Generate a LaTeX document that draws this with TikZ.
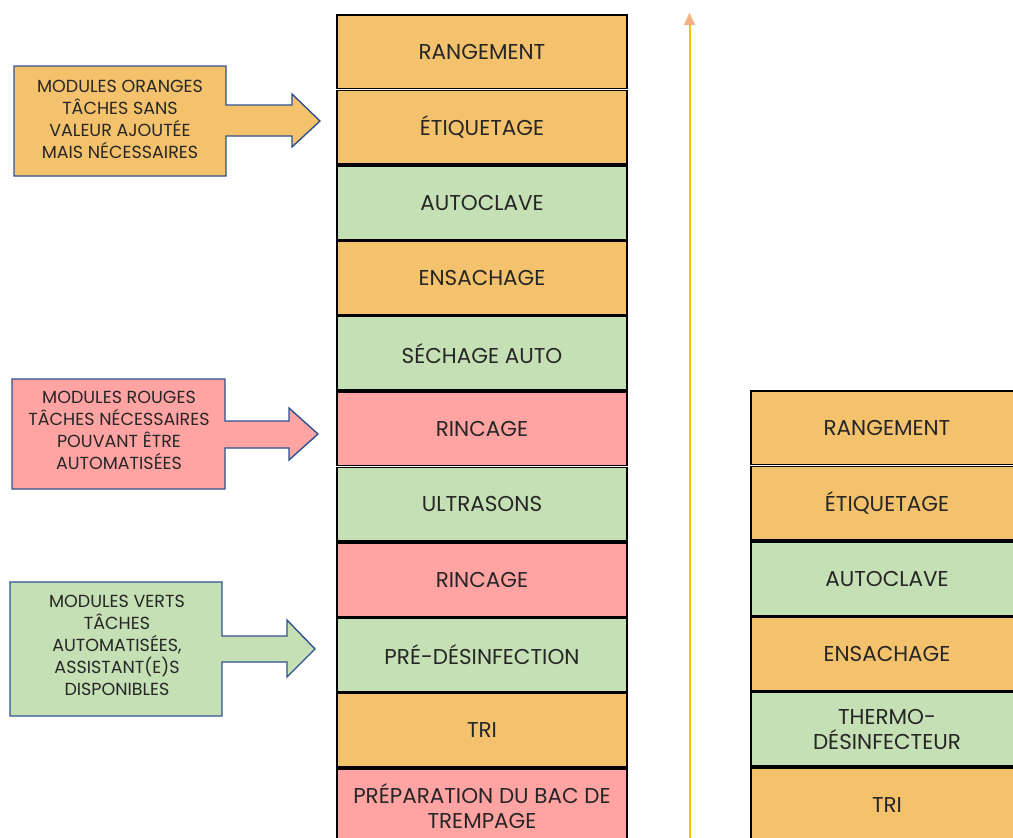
\documentclass[tikz,border=0pt]{standalone}
\usepackage{fontspec}
\setmainfont{Poppins}
\usetikzlibrary{arrows.meta}
\definecolor{corange}{HTML}{F4C26D}
\definecolor{cgreen}{HTML}{C5E0B4}
\definecolor{cred}{HTML}{FFA3A3}
\definecolor{cblue}{HTML}{2F528F}
\definecolor{ctext}{HTML}{262626}
\definecolor{cvline}{HTML}{FFC000}
\definecolor{chead}{HTML}{F4B183}
\begin{document}
\begin{tikzpicture}[x=1pt,y=-1pt,
  cell/.style={draw=black, line width=1.6pt, minimum height=73.6pt, inner sep=0pt,
    text=ctext, align=center, font=\fontsize{21.5}{25}\selectfont},
  calltext/.style={text=ctext, align=center, inner sep=0pt,
    font=\fontsize{17.5}{22}\selectfont},
  callshape/.style={draw=cblue, line width=1.4pt, line join=miter}]
\useasboundingbox (0,0) rectangle (1013,838);
\clip (0,0) rectangle (1013,838);

% left column
\foreach \i/\col/\lab in {1/corange/RANGEMENT, 2/corange/ÉTIQUETAGE, 3/cgreen/AUTOCLAVE,
  4/corange/ENSACHAGE, 5/cgreen/SÉCHAGE AUTO, 6/cred/RINCAGE, 7/cgreen/ULTRASONS,
  8/cred/RINCAGE, 9/cgreen/PRÉ-DÉSINFECTION, 10/corange/TRI,
  11/cred/{PRÉPARATION DU BAC DE\\TREMPAGE}}
  \node[cell, fill=\col, minimum width=290pt] (L\i) at (482, {14+75.4*(\i-0.5)}) {\lab};

% right column
\foreach \i/\col/\lab in {1/corange/RANGEMENT, 2/corange/ÉTIQUETAGE, 3/cgreen/AUTOCLAVE,
  4/corange/ENSACHAGE, 5/cgreen/{THERMO-\\DÉSINFECTEUR}, 6/corange/TRI}
  \node[cell, fill=\col, minimum width=272pt] (R\i) at (887, {390+75.4*(\i-0.5)}) {\lab};

% vertical arrow
\coordinate (vbot) at (689.5,845);
\coordinate (vtop) at (689.5,13);
\draw[draw=cvline, line width=2pt, -{Triangle[color=chead, fill=chead, length=12pt, width=11pt]}] (vbot) -- (vtop);

% orange callout
\draw[callshape, fill=corange] (14,66) -- (226,66) -- (226,105) -- (292,105) -- (292,94)
  -- (320,121) -- (292,147) -- (292,136) -- (226,136) -- (226,176) -- (14,176) -- cycle;
\node[calltext] (co) at (120,119) {MODULES ORANGES\\TÂCHES SANS\\VALEUR AJOUTÉE\\MAIS NÉCESSAIRES};

% red callout
\draw[callshape, fill=cred] (12,379) -- (225,379) -- (225,421) -- (289,421) -- (289,408)
  -- (318,434) -- (289,460) -- (289,448) -- (225,448) -- (225,489) -- (12,489) -- cycle;
\node[calltext] (cr) at (119,430) {MODULES ROUGES\\TÂCHES NÉCESSAIRES\\POUVANT ÊTRE\\AUTOMATISÉES};

% green callout
\draw[callshape, fill=cgreen] (10,582) -- (222,582) -- (222,636) -- (287,636) -- (287,620)
  -- (315,649) -- (287,677) -- (287,662) -- (222,662) -- (222,716) -- (10,716) -- cycle;
\node[calltext] (cg) at (117,645) {MODULES VERTS\\TÂCHES\\AUTOMATISÉES,\\ASSISTANT(E)S\\DISPONIBLES};
\end{tikzpicture}
\end{document}
